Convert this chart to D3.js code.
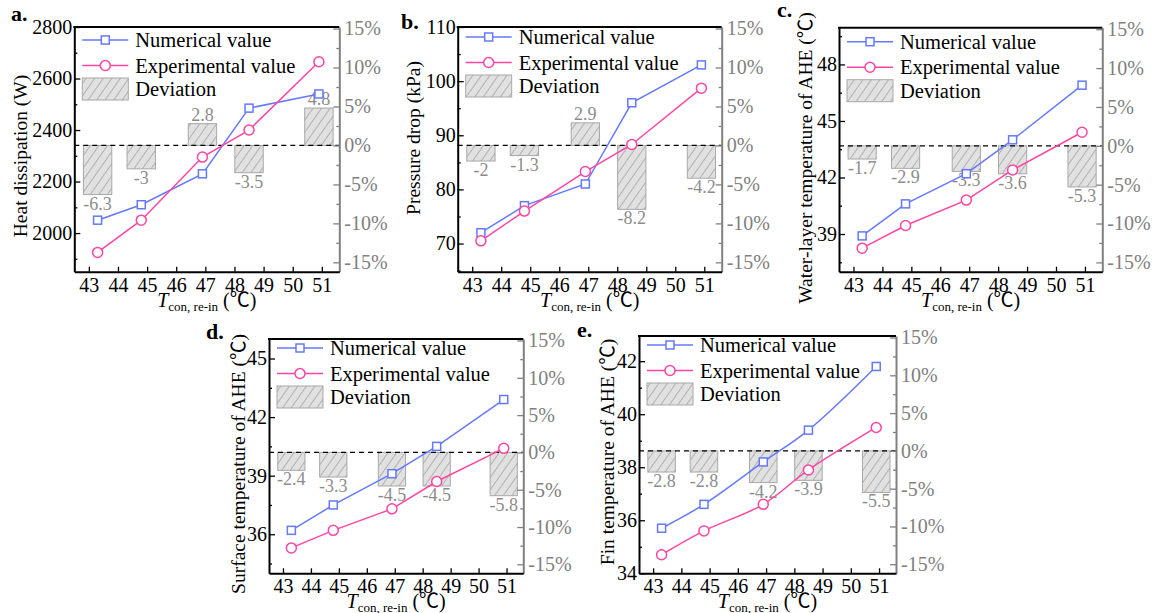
<!DOCTYPE html>
<html>
<head>
<meta charset="utf-8">
<script src="https://cdn.jsdelivr.net/npm/d3@7"></script>
<style>
  body { margin: 0; background: #fff; }
</style>
</head>
<body>
<div id="chart"></div>
<script>
// condenser re-inlet temperature (x positions of the five runs)
const xTicks = [43, 44, 45, 46, 47, 48, 49, 50, 51];
const xVals = [43.3, 44.8, 46.9, 48.5, 50.9];
const devTicks = [-15, -10, -5, 0, 5, 10, 15];

// a. heat dissipation (W)
const heatNum = [2050, 2110, 2230, 2485, 2540];
const heatExp = [1925, 2050, 2295, 2400, 2665];
const heatDev = [-6.3, -3, 2.8, -3.5, 4.8];
const heatTicks = [2000, 2200, 2400, 2600, 2800];

// b. pressure drop (kPa)
const pressNum = [72, 77, 81, 96, 103];
const pressExp = [70.5, 76, 83.3, 88.3, 98.7];
const pressDev = [-2, -1.3, 2.9, -8.2, -4.2];
const pressTicks = [70, 80, 90, 100, 110];

// c. water-layer temperature of AHE
const waterNum = [38.9, 40.6, 42.2, 44.0, 46.9];
const waterExp = [38.25, 39.45, 40.8, 42.4, 44.4];
const waterDev = [-1.7, -2.9, -3.3, -3.6, -5.3];
const waterTicks = [39, 42, 45, 48];

// d. surface temperature of AHE
const surfNum = [36.2, 37.5, 39.1, 40.5, 42.9];
const surfExp = [35.3, 36.2, 37.3, 38.7, 40.4];
const surfDev = [-2.4, -3.3, -4.5, -4.5, -5.8];
const surfTicks = [36, 39, 42, 45];

// e. fin temperature of AHE
const finNum = [35.7, 36.6, 38.2, 39.4, 41.8];
const finExp = [34.7, 35.6, 36.6, 37.9, 39.5];
const finDev = [-2.8, -2.8, -4.2, -3.9, -5.5];
const finTicks = [34, 36, 38, 40, 42];

const width = 1154;
const height = 613;
const serif = "'Liberation Serif', 'Times New Roman', 'Noto Sans CJK SC', serif";

const colors = {
  num: "#6479ff",
  exp: "#ff45a2",
  grey: "#808080",
  devText: "#8c8c8c"
};

const panels = [
  { tag: "a.", tagX: 11, tagY: 21, frame: { x0: 74.3, x1: 339.3, y0: 27, y1: 271.7 },
    yDomain: [1850, 2800], ticks: heatTicks, minor: 100,
    num: heatNum, exp: heatExp, dev: heatDev,
    title: "Heat dissipation (W)", titleX: 20, titleY: 156, legTop: 13 },
  { tag: "b.", tagX: 401, tagY: 29, frame: { x0: 457.7, x1: 721.7, y0: 27, y1: 271.7 },
    yDomain: [64.8, 110], ticks: pressTicks, minor: 5,
    num: pressNum, exp: pressExp, dev: pressDev,
    title: "Pressure drop (kPa)", titleX: 413, titleY: 138, legTop: 10 },
  { tag: "c.", tagX: 777, tagY: 17, frame: { x0: 839, x1: 1102.3, y0: 27.7, y1: 271.7 },
    yDomain: [37, 49.95], ticks: waterTicks, minor: 1.5,
    num: waterNum, exp: waterExp, dev: waterDev,
    title: "Water-layer temperature of AHE (\u2103)", titleX: 805, titleY: 158, legTop: 14 },
  { tag: "d.", tagX: 206, tagY: 339, frame: { x0: 269, x1: 523.3, y0: 339, y1: 573.3 },
    yDomain: [34, 46], ticks: surfTicks, minor: 1.5,
    num: surfNum, exp: surfExp, dev: surfDev,
    title: "Surface temperature of AHE (\u2103)", titleX: 238, titleY: 464, legTop: 9 },
  { tag: "e.", tagX: 577, tagY: 337, frame: { x0: 639, x1: 896, y0: 336, y1: 573.3 },
    yDomain: [34, 42.95], ticks: finTicks, minor: 1,
    num: finNum, exp: finExp, dev: finDev, curved: true,
    title: "Fin temperature of AHE (\u2103)", titleX: 607, titleY: 452, legTop: 9 }
];

const svg = d3.select("#chart").append("svg")
  .attr("width", width)
  .attr("height", height)
  .attr("font-family", serif)
  .style("display", "block");

svg.append("rect").attr("width", width).attr("height", height).attr("fill", "#fff");

// hatch fill for the deviation bars
const hatch = svg.append("defs").append("pattern")
  .attr("id", "hatch")
  .attr("patternUnits", "userSpaceOnUse")
  .attr("width", 7)
  .attr("height", 7)
  .attr("patternTransform", "rotate(35)");
hatch.append("rect").attr("width", 7).attr("height", 7).attr("fill", "#e1e1e1");
hatch.append("line").attr("x1", 3.5).attr("y1", 0).attr("x2", 3.5).attr("y2", 7)
  .attr("stroke", "#a3a3a3").attr("stroke-width", 0.8);

function range(a, b, step) {
  var out = [];
  for (var v = a; v <= b + 1e-9; v += step) out.push(+v.toFixed(4));
  return out;
}

function styleAxis(a, color) {
  a.attr("font-family", serif).attr("font-size", 20);
  a.select(".domain").attr("stroke", color).attr("stroke-width", 2);
  a.selectAll("line").attr("stroke", color).attr("stroke-width", 1.3);
  a.selectAll("text").attr("fill", color);
}

function drawPanel(p) {
  const f = p.frame;
  const g = svg.append("g");

  const x = d3.scaleLinear().domain([42.5, 51.6]).range([f.x0, f.x1]);
  const y = d3.scaleLinear().domain(p.yDomain).range([f.y1, f.y0]);
  const yDev = d3.scaleLinear().domain([-16.2, 15.2]).range([f.y1, f.y0]);
  const barW = x(43.475) - x(42.5);

  // deviation bars
  g.selectAll(".dev-bar").data(p.dev).enter().append("rect")
    .attr("class", "dev-bar")
    .attr("x", (d, i) => x(xVals[i]) - barW / 2)
    .attr("y", d => yDev(Math.max(d, 0)))
    .attr("width", barW)
    .attr("height", d => Math.abs(yDev(d) - yDev(0)))
    .attr("fill", "url(#hatch)")
    .attr("stroke", "#a8a8a8")
    .attr("stroke-width", 1);

  g.selectAll(".dev-label").data(p.dev).enter().append("text")
    .attr("class", "dev-label")
    .attr("x", (d, i) => x(xVals[i]))
    .attr("y", d => d < 0 ? yDev(d) + 15 : yDev(d) - 3)
    .attr("text-anchor", "middle")
    .attr("font-size", 18)
    .attr("fill", colors.devText)
    .text(d => d);

  // zero reference
  g.append("line")
    .attr("x1", f.x0).attr("x2", f.x1)
    .attr("y1", yDev(0)).attr("y2", yDev(0))
    .attr("stroke", "#000").attr("stroke-width", 1.2)
    .attr("stroke-dasharray", "5,4");

  // left axis, ticks pointing inward
  const left = g.append("g").attr("transform", "translate(" + f.x0 + ",0)")
    .call(d3.axisLeft(y).tickValues(p.ticks).tickSize(-6).tickSizeOuter(0).tickPadding(2)
      .tickFormat(d3.format("d")));
  const minorLeft = range(Math.ceil(p.yDomain[0] / p.minor) * p.minor, p.yDomain[1], p.minor)
    .filter(v => p.ticks.indexOf(v) < 0);
  g.append("g").attr("transform", "translate(" + f.x0 + ",0)")
    .call(d3.axisLeft(y).tickValues(minorLeft).tickSize(-3).tickSizeOuter(0).tickFormat(""))
    .call(a => a.select(".domain").remove())
    .selectAll("line").attr("stroke", "#000").attr("stroke-width", 1.3);

  // right axis in grey
  const right = g.append("g").attr("transform", "translate(" + f.x1 + ",0)")
    .call(d3.axisRight(yDev).tickValues(devTicks).tickSize(-6).tickSizeOuter(0).tickPadding(5)
      .tickFormat(d => d + "%"));
  g.append("g").attr("transform", "translate(" + f.x1 + ",0)")
    .call(d3.axisRight(yDev).tickValues([-12.5, -7.5, -2.5, 2.5, 7.5, 12.5]).tickSize(-3).tickSizeOuter(0).tickFormat(""))
    .call(a => a.select(".domain").remove())
    .selectAll("line").attr("stroke", colors.grey).attr("stroke-width", 1.3);

  // bottom axis
  const bottom = g.append("g").attr("transform", "translate(0," + f.y1 + ")")
    .call(d3.axisBottom(x).tickValues(xTicks).tickSize(-5).tickSizeOuter(0).tickPadding(1));

  styleAxis(left, "#000");
  styleAxis(bottom, "#000");
  styleAxis(right, colors.grey);
  bottom.selectAll("text").attr("dy", "0.95em");

  // top border
  g.append("line")
    .attr("x1", f.x0 - 1).attr("x2", f.x1)
    .attr("y1", f.y0).attr("y2", f.y0)
    .attr("stroke", "#000").attr("stroke-width", 2);

  // numerical and experimental series
  const line = d3.line()
    .x((d, i) => x(xVals[i]))
    .y(d => y(d))
    .curve(p.curved ? d3.curveCatmullRom : d3.curveLinear);

  g.append("path").datum(p.num).attr("d", line)
    .attr("fill", "none").attr("stroke", colors.num).attr("stroke-width", 1.5);
  g.append("path").datum(p.exp).attr("d", line)
    .attr("fill", "none").attr("stroke", colors.exp).attr("stroke-width", 1.5);

  g.selectAll(".num-pt").data(p.num).enter().append("rect")
    .attr("class", "num-pt")
    .attr("x", (d, i) => x(xVals[i]) - 4)
    .attr("y", d => y(d) - 4)
    .attr("width", 8).attr("height", 8)
    .attr("fill", "#fff").attr("stroke", colors.num).attr("stroke-width", 1.5);
  g.selectAll(".exp-pt").data(p.exp).enter().append("circle")
    .attr("class", "exp-pt")
    .attr("cx", (d, i) => x(xVals[i]))
    .attr("cy", d => y(d))
    .attr("r", 5)
    .attr("fill", "#fff").attr("stroke", colors.exp).attr("stroke-width", 1.5);

  // legend
  const lx = f.x0 + 8;
  const ly = f.y0 + p.legTop;
  [["Numerical value", colors.num, "rect"], ["Experimental value", colors.exp, "circle"]].forEach(function(item, i) {
    const yy = ly + i * 25.5;
    g.append("line").attr("x1", lx).attr("x2", lx + 46).attr("y1", yy).attr("y2", yy)
      .attr("stroke", item[1]).attr("stroke-width", 1.5);
    if (item[2] == "rect") {
      g.append("rect").attr("x", lx + 19).attr("y", yy - 4).attr("width", 8).attr("height", 8)
        .attr("fill", "#fff").attr("stroke", item[1]).attr("stroke-width", 1.5);
    } else {
      g.append("circle").attr("cx", lx + 23).attr("cy", yy).attr("r", 5)
        .attr("fill", "#fff").attr("stroke", item[1]).attr("stroke-width", 1.5);
    }
    g.append("text").attr("x", lx + 53).attr("y", yy + 7).attr("font-size", 20.5).text(item[0]);
  });
  g.append("rect").attr("x", lx).attr("y", ly + 38).attr("width", 46).attr("height", 22)
    .attr("fill", "url(#hatch)").attr("stroke", "#a8a8a8").attr("stroke-width", 1);
  g.append("text").attr("x", lx + 53).attr("y", ly + 56).attr("font-size", 20.5).text("Deviation");

  // axis titles
  g.append("text")
    .attr("transform", "translate(" + p.titleX + "," + p.titleY + ") rotate(-90)")
    .attr("text-anchor", "middle")
    .attr("dominant-baseline", "central")
    .attr("font-size", 19.5)
    .text(p.title);

  const xt = g.append("text")
    .attr("x", (f.x0 + f.x1) / 2)
    .attr("y", f.y1 + 35)
    .attr("text-anchor", "middle")
    .attr("font-size", 20);
  xt.append("tspan").attr("font-style", "italic").text("T");
  xt.append("tspan").attr("font-size", 13).attr("dy", 4).text("con, re-in");
  xt.append("tspan").attr("dy", -4).text(" (\u2103)");

  // panel tag
  svg.append("text")
    .attr("x", p.tagX).attr("y", p.tagY)
    .attr("font-size", 22).attr("font-weight", "bold")
    .text(p.tag);
}

panels.forEach(drawPanel);
</script>
</body>
</html>
